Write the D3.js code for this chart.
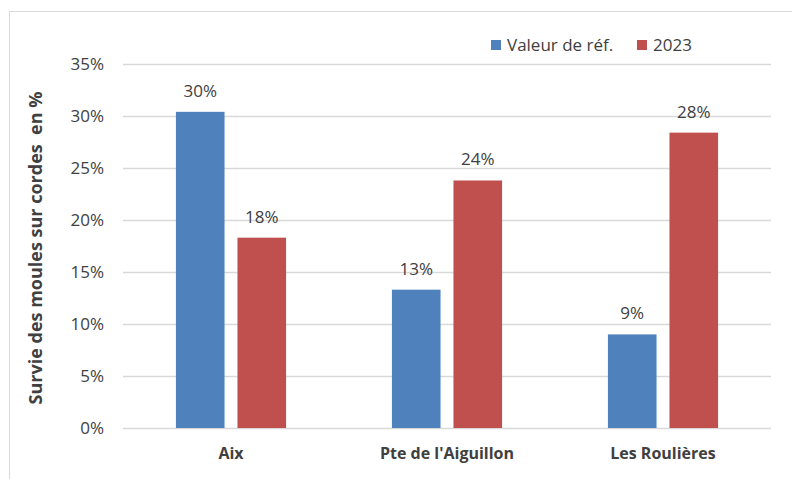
<!DOCTYPE html>
<html>
<head>
<meta charset="utf-8">
<script src="https://cdn.jsdelivr.net/npm/d3@7"></script>
<style>
  body { margin: 0; background: #fff; }
  text { font-family: "Open Sans", sans-serif; fill: #404040; }
</style>
</head>
<body>
<div id="chart"></div>
<script>
let width = 792, height = 479;

let sites = ["Aix", "Pte de l'Aiguillon", "Les Roulières"];
let seriesNames = ["Valeur de réf.", "2023"];
let refValues = [30.4, 13.3, 9.0];
let values2023 = [18.3, 23.8, 28.4];
let refLabels = ["30%", "13%", "9%"];
let labels2023 = ["18%", "24%", "28%"];
let yTicks = [0, 5, 10, 15, 20, 25, 30, 35];
let colors = ["#4f81bd", "#c0504d"];

let margin = {left: 123, right: 21, top: 64, bottom: 51};

let svg = d3.select('#chart')
    .append('svg')
    .attr('width', width)
    .attr('height', height);

// chart frame (only left and top visible)
svg.append('line')
    .attr('x1', 9.5).attr('x2', 9.5)
    .attr('y1', 11).attr('y2', height)
    .attr('stroke', '#d9d9d9');
svg.append('line')
    .attr('x1', 9).attr('x2', width)
    .attr('y1', 11.5).attr('y2', 11.5)
    .attr('stroke', '#d9d9d9');

let x = d3.scaleBand()
    .domain(sites)
    .range([margin.left, width - margin.right]);

let x1 = d3.scaleBand()
    .domain(seriesNames)
    .range([0, x.bandwidth()])
    .paddingInner(0.21)
    .paddingOuter(0.86);

let y = d3.scaleLinear()
    .domain([0, 35])
    .range([height - margin.bottom, margin.top]);

// gridlines
svg.append('g')
    .selectAll('line')
    .data(yTicks)
    .enter()
    .append('line')
    .attr('x1', margin.left)
    .attr('x2', width - margin.right)
    .attr('y1', d => Math.round(y(d)) + 0.5)
    .attr('y2', d => Math.round(y(d)) + 0.5)
    .attr('stroke', '#d9d9d9')
    .attr('stroke-width', 1.5);

// y tick labels
svg.append('g')
    .selectAll('text')
    .data(yTicks)
    .enter()
    .append('text')
    .attr('x', 104)
    .attr('y', d => y(d) + 6)
    .attr('text-anchor', 'end')
    .style('font-size', '17px')
    .text(d => d + '%');

let rows = sites.map((s, i) => ({
    site: s,
    vals: [
        {name: seriesNames[0], v: refValues[i], label: refLabels[i], c: colors[0]},
        {name: seriesNames[1], v: values2023[i], label: labels2023[i], c: colors[1]}
    ]
}));

let groups = svg.append('g')
    .selectAll('g')
    .data(rows)
    .enter()
    .append('g')
    .attr('transform', d => `translate(${x(d.site)},0)`);

groups.selectAll('rect')
    .data(d => d.vals)
    .enter()
    .append('rect')
    .attr('x', d => x1(d.name))
    .attr('y', d => y(d.v))
    .attr('width', x1.bandwidth())
    .attr('height', d => y(0) - y(d.v))
    .attr('fill', d => d.c);

groups.selectAll('text')
    .data(d => d.vals)
    .enter()
    .append('text')
    .attr('x', d => x1(d.name) + x1.bandwidth() / 2)
    .attr('y', d => y(d.v) - 15)
    .attr('text-anchor', 'middle')
    .style('font-size', '17px')
    .text(d => d.label);

// category labels
svg.append('g')
    .selectAll('text')
    .data(sites)
    .enter()
    .append('text')
    .attr('x', d => x(d) + x.bandwidth() / 2)
    .attr('y', 459)
    .attr('text-anchor', 'middle')
    .style('font-size', '16px')
    .style('font-weight', 'bold')
    .text(d => d);

// y axis title
svg.append('text')
    .attr('transform', 'translate(42,248) rotate(-90)')
    .attr('text-anchor', 'middle')
    .style('font-size', '18px')
    .style('font-weight', 'bold')
    .style('white-space', 'pre')
    .text('Survie des moules sur cordes  en %');

// legend
let legendX = [491, 637];
let legend = svg.append('g')
    .selectAll('g')
    .data(seriesNames)
    .enter()
    .append('g')
    .attr('transform', (d, i) => `translate(${legendX[i]},40)`);
legend.append('rect')
    .attr('width', 10)
    .attr('height', 10)
    .attr('fill', (d, i) => colors[i]);
legend.append('text')
    .attr('x', 16)
    .attr('y', 11)
    .style('font-size', '17px')
    .text(d => d);
</script>
</body>
</html>
